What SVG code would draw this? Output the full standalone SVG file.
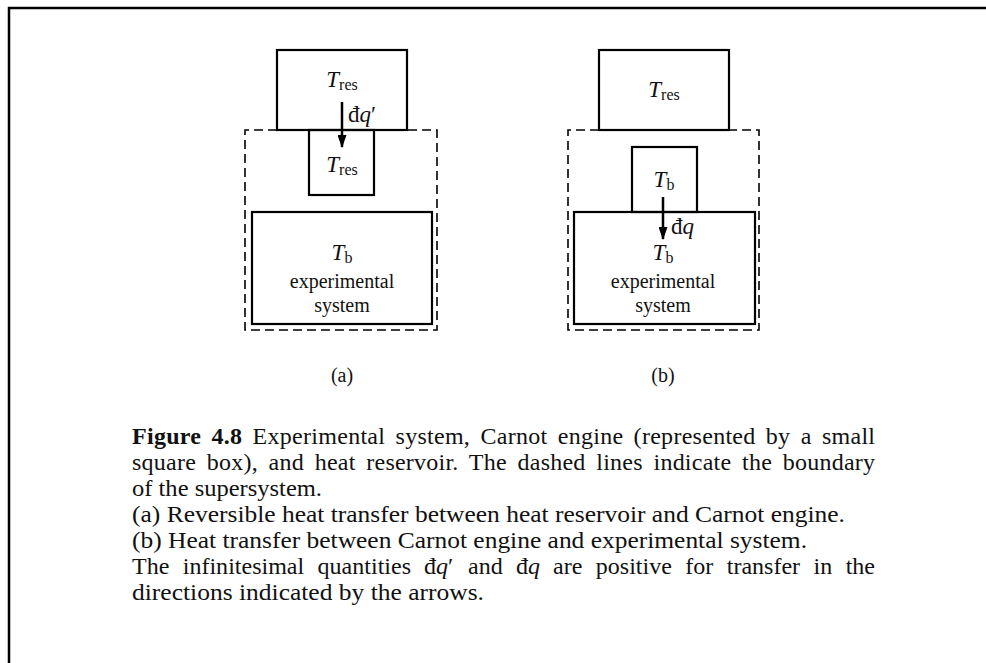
<svg xmlns="http://www.w3.org/2000/svg" width="986" height="663" viewBox="0 0 986 663">
<style>
.box{fill:none;stroke:#000;stroke-width:2.2}
.dash{fill:none;stroke:#000;stroke-width:1.6;stroke-dasharray:9 5}
.t{font-family:"Liberation Serif","Times New Roman",serif;font-size:20px;fill:#111}
.T{font-family:"Liberation Serif","Times New Roman",serif;font-size:23px;fill:#111}
.it{font-style:italic}
.sub{font-size:16px;font-style:normal}
.cap{font-family:"Liberation Serif","Times New Roman",serif;font-size:24px;fill:#111}
.arr{stroke:#000;stroke-width:2.5}
</style>
<defs>
<marker id="ah" markerWidth="13" markerHeight="9" refX="12" refY="4.5" orient="auto" markerUnits="userSpaceOnUse" viewBox="0 0 13 9">
<path d="M0,0 L13,4.5 L0,9 Z" fill="#000"/>
</marker>
</defs>
<rect width="986" height="663" fill="#fff"/>
<path d="M9,663 V8 H986" fill="none" stroke="#000" stroke-width="2.5"/>

<g id="panel-a">
  <g id="a-boundary"><path class="dash" d="M277,130 H245 V330 H437 V130 H407"/></g>
  <g id="a-reservoir">
    <rect class="box" x="277" y="50" width="130" height="80"/>
    <text class="T it" x="342" y="87" text-anchor="middle">T<tspan class="sub" dy="3">res</tspan></text>
  </g>
  <g id="a-engine">
    <rect class="box" x="309" y="130" width="65" height="65"/>
    <text class="T it" x="342" y="172" text-anchor="middle">T<tspan class="sub" dy="3">res</tspan></text>
  </g>
  <g id="a-system">
    <rect class="box" x="252" y="212" width="180" height="112"/>
    <text class="T it" x="342" y="260" text-anchor="middle">T<tspan class="sub" dy="3">b</tspan></text>
    <text class="t" x="342" y="288" text-anchor="middle">experimental</text>
    <text class="t" x="342" y="312" text-anchor="middle">system</text>
  </g>
  <text class="t" x="342" y="382" text-anchor="middle" font-size="18">(a)</text>
</g>

<g id="panel-b">
  <g id="b-boundary"><path class="dash" d="M599,130 H568 V330 H759 V130 H729"/></g>
  <g id="b-reservoir">
    <rect class="box" x="599" y="50" width="130" height="80"/>
    <text class="T it" x="664" y="97" text-anchor="middle">T<tspan class="sub" dy="3">res</tspan></text>
  </g>
  <g id="b-engine">
    <rect class="box" x="632" y="147" width="65" height="65"/>
    <text class="T it" x="664" y="187" text-anchor="middle">T<tspan class="sub" dy="3">b</tspan></text>
  </g>
  <g id="b-system">
    <rect class="box" x="574" y="212" width="181" height="112"/>
    <text class="T it" x="663" y="260" text-anchor="middle">T<tspan class="sub" dy="3">b</tspan></text>
    <text class="t" x="663" y="288" text-anchor="middle">experimental</text>
    <text class="t" x="663" y="312" text-anchor="middle">system</text>
  </g>
  <text class="t" x="663" y="382" text-anchor="middle" font-size="18">(b)</text>
</g>

<g id="connectors">
  <line class="arr" x1="342" y1="102" x2="342" y2="147" marker-end="url(#ah)"/>
  <text class="T" x="348" y="122">đ<tspan class="it">q</tspan>′</text>
  <line class="arr" x1="663" y1="197" x2="663" y2="239" marker-end="url(#ah)"/>
  <text class="T" x="671" y="234">đ<tspan class="it">q</tspan></text>
</g>

<g id="caption">
  <text class="cap" x="132" y="444" word-spacing="4" textLength="743" lengthAdjust="spacing"><tspan font-weight="bold">Figure 4.8</tspan> Experimental system, Carnot engine (represented by a small</text>
  <text class="cap" x="132" y="470" word-spacing="4.5" textLength="743" lengthAdjust="spacing">square box), and heat reservoir. The dashed lines indicate the boundary</text>
  <text class="cap" x="132" y="496" textLength="190" lengthAdjust="spacingAndGlyphs">of the supersystem.</text>
  <text class="cap" x="132" y="522" textLength="713" lengthAdjust="spacingAndGlyphs">(a) Reversible heat transfer between heat reservoir and Carnot engine.</text>
  <text class="cap" x="132" y="548" textLength="675" lengthAdjust="spacingAndGlyphs">(b) Heat transfer between Carnot engine and experimental system.</text>
  <text class="cap" x="132" y="574" word-spacing="7.4" textLength="279" lengthAdjust="spacing">The infinitesimal quantities</text>
  <text class="cap" x="424" y="574">đ<tspan class="it">q</tspan>′</text>
  <text class="cap" x="468" y="574">and</text>
  <text class="cap" x="516" y="574">đ<tspan class="it">q</tspan></text>
  <text class="cap" x="553" y="574" word-spacing="7.4" textLength="322" lengthAdjust="spacing">are positive for transfer in the</text>
  <text class="cap" x="132" y="600" textLength="352" lengthAdjust="spacingAndGlyphs">directions indicated by the arrows.</text>
</g>
</svg>
